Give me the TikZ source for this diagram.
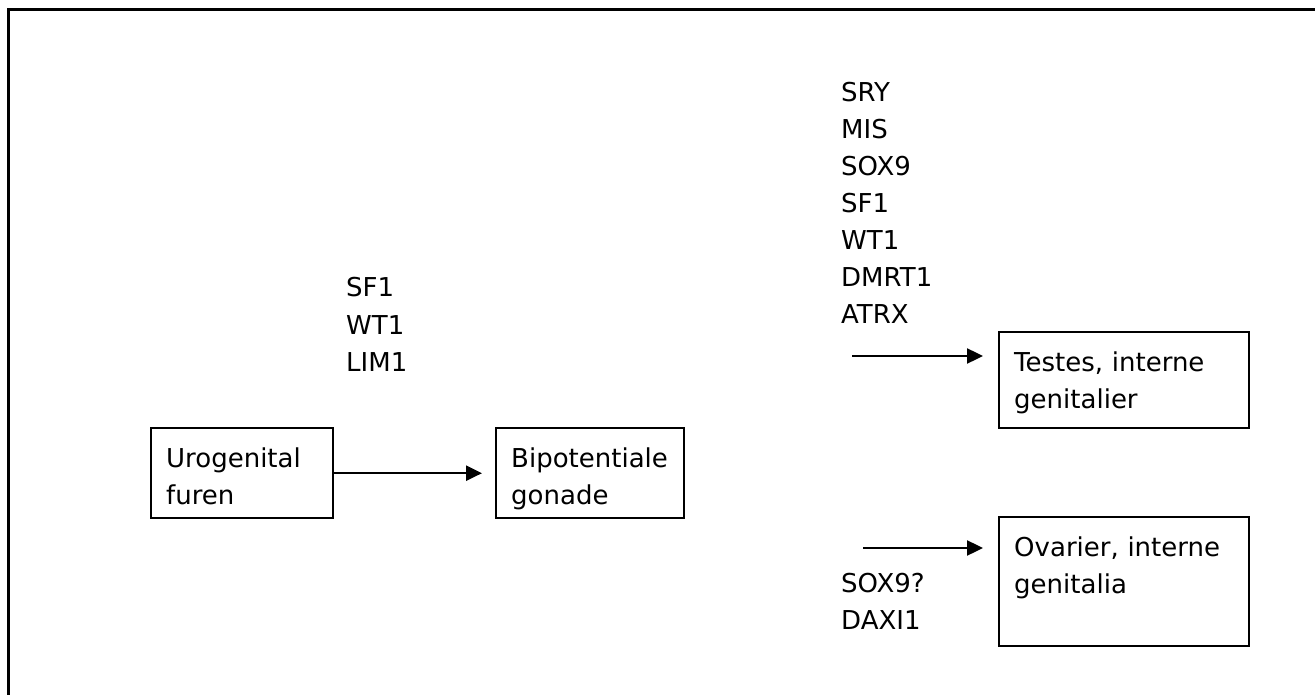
\documentclass[tikz,border=0pt]{standalone}
\usepackage{fontspec}
\setmainfont{DejaVu Sans}
\usetikzlibrary{arrows.meta}

\begin{document}
\begin{tikzpicture}[x=1pt,y=-1pt,
        every node/.append style={font=\fontsize{26}{37}\selectfont, inner sep=0pt, align=left},
        genebox/.style={draw, line width=2.4pt, anchor=north west, inner xsep=15pt, inner ysep=0pt, text height=39pt},
        genearrow/.style={line width=2.4pt, -{Triangle[length=16pt,width=15pt]}}]
        \useasboundingbox (0,0) rectangle (1315,695);
        \draw[line width=3pt] (8,695) -- (8,10) -- (1315,10);
        \node[genebox, text width=152pt, text depth=51pt] (furen) at (150,427) {Urogenital\\furen};
        \node[genebox, text width=158pt, text depth=51pt] (gonade) at (495,427) {Bipotentiale\\gonade};
        \node[genebox, text width=220pt, text depth=57pt] (testes) at (998,331) {Testes, interne\\genitalier};
        \node[genebox, text width=220pt, text depth=90pt] (ovarier) at (998,516) {Ovarier, interne\\genitalia};
        \node[anchor=base west, text width=120pt] (early) at (346,297) {SF1\\WT1\\LIM1};
        \node[anchor=base west, text width=140pt] (male) at (841,102) {SRY\\MIS\\SOX9\\SF1\\WT1\\DMRT1\\ATRX};
        \node[anchor=base west, text width=140pt] (female) at (841,592) {SOX9?\\DAXI1};
        \coordinate (tstart) at (852,356);
        \coordinate (ostart) at (863,548);
        \draw[genearrow, shorten >=13pt] (furen.east) -- (gonade.west);
        \draw[genearrow, shorten >=15pt] (tstart) -- (tstart -| testes.west);
        \draw[genearrow, shorten >=15pt] (ostart) -- (ostart -| ovarier.west);
    \end{tikzpicture}
\end{document}
